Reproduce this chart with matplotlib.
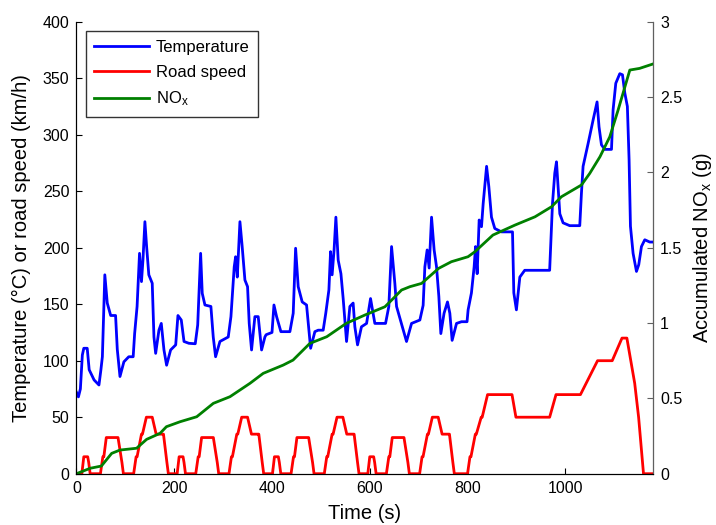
import matplotlib
matplotlib.use("Agg")
import matplotlib.pyplot as plt
import numpy as np

plt.rcParams['font.family'] = ['Liberation Sans', 'DejaVu Sans']
plt.rcParams['mathtext.default'] = 'regular'

# NEDC road speed: one ECE-15 urban block (repeated 4 times) followed by the EUDC
ece_time = [0, 11, 15, 23, 25, 28, 49, 54, 56, 61, 85, 93, 96, 117, 122, 124, 133, 135,
            143, 155, 163, 176, 178, 185, 188, 195]
ece_speed = [0, 0, 15, 15, 10, 0, 0, 15, 15, 32, 32, 10, 0, 0, 15, 15, 35, 35,
             50, 50, 35, 35, 35, 10, 0, 0]
ece_starts = [0, 195, 390, 585]
eudc_time = [780, 800, 805, 807, 816, 818, 828, 830, 841, 891, 899, 968, 981, 1031,
             1066, 1096, 1116, 1126, 1142, 1150, 1160, 1180]
eudc_speed = [0, 0, 15, 15, 35, 35, 50, 50, 70, 70, 50, 50, 70, 70,
              100, 100, 120, 120, 80, 50, 0, 0]

# Temperature (deg C)
temp_time = [0, 4, 8, 12, 15, 22, 26, 36, 46, 50, 53, 58, 63, 70, 80, 83.5, 89, 97, 107, 116,
             119, 124, 129, 133, 136, 140, 143.5, 148, 155, 158.5, 162, 168.7, 173.5, 179, 184.4,
             192.6, 203, 207.6, 214.4, 220, 230, 243, 248, 254, 257.3, 262.8, 275, 279.8, 284.6,
             293.5, 310.5, 316, 322.7, 325.6, 329, 334.4, 339, 344.6, 350, 353.4, 358.2, 365,
             371.8, 378.7, 385.5, 388, 400, 404, 409.4, 418.2, 436.6, 443.4, 448.3, 453.6, 461.8,
             470.7, 479, 487.7, 494.5, 504.7, 510, 516.4, 519.8, 523, 527, 530.7, 535.4, 541,
             545.6, 552.5, 559.3, 566, 569.5, 575, 583, 593.5, 601.6, 610.4, 632.3, 639, 644.6,
             651.3, 654.8, 675.2, 685.5, 702.5, 709.2, 712.7, 717.4, 721.5, 726.4, 731.7, 736.6,
             741.3, 745.4, 752, 759, 763.8, 768.5, 777.5, 787.7, 799, 801.2, 808, 813.5, 816.4,
             819.7, 823.8, 828.6, 832, 839, 843.6, 849, 855.8, 869.5, 892, 894.7, 900, 907, 917,
             968, 973.8, 978.5, 982, 985.3, 988.8, 995.5, 1009, 1029.6, 1033, 1036.4, 1046.6,
             1056.9, 1065, 1069, 1074, 1080.8, 1094.5, 1097.8, 1103.3, 1111.5, 1117, 1121.7, 1127,
             1130.5, 1133.3, 1138.7, 1145.6, 1150.3, 1155.8, 1162.6, 1172.8, 1180]
temp_value = [72, 68, 75, 105, 111, 111, 92, 83, 78.5, 92, 103.5, 176, 151, 140, 140, 110, 86, 99,
              103.5, 103.5, 124, 148, 195, 170, 189, 223, 201, 176, 168.5, 121, 106.5, 127, 133,
              109.5, 96, 109.5, 114, 140, 136, 117, 115.4, 115, 131.6, 195, 159.6, 149.3, 148, 121,
              103.5, 117, 121, 139, 183, 192, 174, 223, 201, 171.4, 165.5, 133, 109.5, 139, 139,
              109.5, 121, 123, 125, 149.3, 139, 125.7, 125.7, 142, 199.5, 165.5, 152, 149.3, 111,
              125.7, 127, 127, 142, 162.6, 196.5, 176, 198, 227, 189, 177, 155, 117, 148, 151, 130,
              114, 130, 133, 155, 133, 133, 148, 201, 168.5, 148, 117, 133, 136, 149, 183, 198,
              182, 227, 198, 183, 157, 124, 142, 152, 142, 118, 133, 134.5, 134.5, 145, 160, 183,
              201, 177, 224.5, 218.6, 239, 272, 254, 227, 217, 214, 214, 160, 145, 174, 180, 180,
              239, 266, 276, 254, 230, 222, 219.5, 219.5, 248, 272, 292, 313, 329, 307, 291, 287,
              287, 322, 345.5, 354, 353, 337, 325, 278, 219, 195, 179, 185, 201, 207, 205, 205]

# Accumulated NOx (g)
nox_time = [0, 28, 51, 72, 89, 123, 143.5, 171, 184, 212, 246, 280, 314, 355, 382, 423, 443,
            477.5, 512, 552, 590, 631, 645, 665, 682, 706, 741, 767, 801, 815, 852, 897, 938,
            972, 992, 1033, 1050, 1071, 1091, 1108, 1122, 1132, 1152, 1180]
nox_value = [0, 0.036, 0.051, 0.135, 0.157, 0.169, 0.228, 0.268, 0.312, 0.345, 0.378, 0.467,
             0.511, 0.6, 0.666, 0.721, 0.754, 0.865, 0.909, 0.998, 1.053, 1.108, 1.153, 1.219,
             1.241, 1.263, 1.363, 1.407, 1.44, 1.473, 1.584, 1.65, 1.705, 1.772, 1.838, 1.916,
             1.993, 2.104, 2.236, 2.413, 2.568, 2.679, 2.69, 2.72]

speed_time = np.concatenate([np.array(ece_time) + s for s in ece_starts] + [eudc_time])
speed_value = np.concatenate([ece_speed] * len(ece_starts) + [eudc_speed])

fig = plt.figure(figsize=(7.16, 5.25), dpi=100)
ax = fig.add_axes([0.1068, 0.0977, 0.8056, 0.861])
ax2 = ax.twinx()

l1, = ax.plot(temp_time, temp_value, color=(0, 0, 1), lw=2.0, label='Temperature')
l2, = ax.plot(speed_time, speed_value, color=(1, 0, 0), lw=2.0, label='Road speed')
l3, = ax2.plot(nox_time, nox_value, color=(0, 0.5, 0), lw=2.0, label='NO$_x$')

ax.set_xlim(0, 1180)
ax.set_ylim(0, 400)
ax2.set_ylim(0, 3)
ax.set_xticks(np.arange(0, 1001, 200))
ax.set_yticks(np.arange(0, 401, 50))
ax2.set_yticks(np.arange(0, 3.01, 0.5))
ax2.set_yticklabels(['0', '0.5', '1', '1.5', '2', '2.5', '3'])

for a in (ax, ax2):
    a.spines['top'].set_visible(False)
    a.tick_params(direction='in', length=4, width=0.8, labelsize=11.5, pad=5)
ax2.spines['right'].set_color('#606060')
ax2.tick_params(axis='y', colors='#606060', labelcolor='black')

ax.set_xlabel('Time (s)', fontsize=14.5)
ax.set_ylabel('Temperature (°C) or road speed (km/h)', fontsize=14.5)
ax2.set_ylabel('Accumulated NO$_x$ (g)', fontsize=14.5)
ax.xaxis.set_label_coords(0.5, -0.066)
ax.yaxis.set_label_coords(-0.078, 0.5)
ax2.yaxis.set_label_coords(1.066, 0.5)

leg = ax2.legend(handles=[l1, l2, l3], loc='upper left', bbox_to_anchor=(0.0165, 0.979),
                 borderaxespad=0, fontsize=12, fancybox=False, handlelength=3.3,
                 handletextpad=0.4, labelspacing=0.6, borderpad=0.5)
leg.get_frame().set_edgecolor('black')
leg.get_frame().set_linewidth(1.0)

fig.savefig('out.png', dpi=100)
